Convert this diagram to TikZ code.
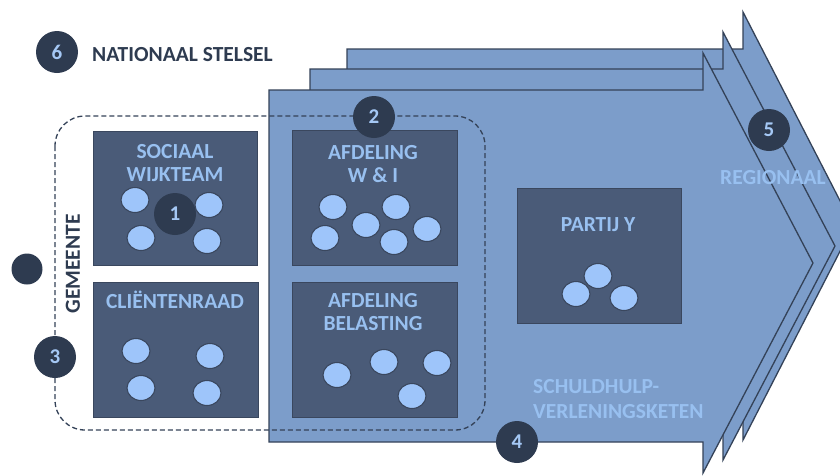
\documentclass[tikz,border=0pt]{standalone}
\usepackage{fontspec}
\setmainfont{Carlito}
\definecolor{arrowblue}{RGB}{124,157,202}
\definecolor{arrowline}{RGB}{52,66,88}
\definecolor{boxfill}{RGB}{74,91,120}
\definecolor{boxline}{RGB}{58,71,94}
\definecolor{ellfill}{RGB}{158,197,250}
\definecolor{badgefill}{RGB}{46,59,80}
\definecolor{badgetext}{RGB}{165,200,245}
\definecolor{lbltext}{RGB}{152,192,240}
\definecolor{darktext}{RGB}{46,59,80}
\tikzset{
  chevron/.style={fill=arrowblue, draw=arrowline, line width=1.3pt, line join=miter},
  unitbox/.style={rectangle, fill=boxfill, draw=boxline, line width=1pt, inner sep=0pt},
  member/.style={ellipse, fill=ellfill, draw=boxline, line width=1.1pt, minimum width=28pt, minimum height=25pt, inner sep=0pt},
  badge/.style={circle, fill=badgefill, minimum size=42pt, inner sep=0pt, text=badgetext, font=\fontsize{21}{22}\selectfont\bfseries},
  boxlabel/.style={text=lbltext, align=center, inner sep=0pt, font=\fontsize{21.5}{23.5}\selectfont\bfseries},
  darklabel/.style={text=darktext, inner sep=0pt, font=\fontsize{21.5}{23}\selectfont\bfseries},
  bluelabel/.style={text=lbltext, inner sep=0pt, font=\fontsize{21.5}{25}\selectfont\bfseries}
}
\usetikzlibrary{shapes.geometric}
\begin{document}
\begin{tikzpicture}[x=1pt,y=-1pt]
\useasboundingbox (0,0) rectangle (840,475);
\begin{scope}
\clip (0,0) rectangle (840,475);
% chevrons (back to front)
\draw[chevron] (347,49) -- (743,49) -- (743,12) -- (853,226) -- (743,440) -- (743,403) -- (347,403) -- cycle;
\draw[chevron] (310,69) -- (723,69) -- (723,32) -- (835,246) -- (723,460) -- (723,423) -- (310,423) -- cycle;
\draw[chevron] (269,90) -- (703,90) -- (703,53) -- (813,263) -- (703,473) -- (703,442) -- (269,442) -- cycle;
\end{scope}
% dashed municipality frame
\draw[arrowline, line width=1.3pt, dash pattern=on 5pt off 3pt, rounded corners=30pt] (55,116) rectangle (485,430);
% unit boxes
\node[unitbox, minimum width=164pt, minimum height=134pt] (wijk) at (175,198.5) {};
\node[unitbox, minimum width=165pt, minimum height=135pt] (raad) at (175.5,349.5) {};
\node[unitbox, minimum width=165pt, minimum height=135pt] (wi) at (374.5,197.5) {};
\node[unitbox, minimum width=165pt, minimum height=135pt] (bel) at (374.5,349.5) {};
\node[unitbox, minimum width=164pt, minimum height=135pt] (partij) at (599,255.5) {};
% labels in boxes
\node[boxlabel] (wijkl) at (175,163) {SOCIAAL\\WIJKTEAM};
\node[boxlabel] (raadl) at (175,300) {CLIËNTENRAAD};
\node[boxlabel] (wil) at (373,164) {AFDELING\\W \& I};
\node[boxlabel] (bell) at (373,312) {AFDELING\\BELASTING};
\node[boxlabel] (partijl) at (598,225) {PARTIJ Y};
% members
\node[member] (w1) at (135,200) {};
\node[member] (w2) at (209,205) {};
\node[member] (w3) at (141,238) {};
\node[member] (w4) at (207,241) {};
\node[member] (r1) at (136,351) {};
\node[member] (r2) at (210,356) {};
\node[member] (r3) at (141,388) {};
\node[member] (r4) at (207,393) {};
\node[member] (i1) at (333,207) {};
\node[member] (i2) at (396,207) {};
\node[member] (i3) at (366,225) {};
\node[member] (i4) at (325,238) {};
\node[member] (i5) at (394,242) {};
\node[member] (i6) at (427,229) {};
\node[member] (b1) at (337,375) {};
\node[member] (b2) at (384,362) {};
\node[member] (b3) at (437,363) {};
\node[member] (b4) at (412,396) {};
\node[member] (p1) at (576,294) {};
\node[member] (p2) at (598,276) {};
\node[member] (p3) at (624,298) {};
% badges
\node[badge] (n1) at (175,214) {1};
\node[badge] (n2) at (374,117) {2};
\node[badge] (n3) at (55,357) {3};
\node[badge] (n4) at (517,442) {4};
\node[badge] (n5) at (769,130) {5};
\node[badge] (n6) at (57,52) {6};
\node[circle, fill=badgefill, minimum size=31pt, inner sep=0pt] (dot) at (27,269) {};
% other labels
\node[darklabel, anchor=west] (nat) at (92,55) {NATIONAAL STELSEL};
\node[darklabel, rotate=90] (gem) at (73,264) {GEMEENTE};
\node[bluelabel] (reg) at (773,178) {REGIONAAL};
\node[bluelabel, anchor=west, align=left] (keten) at (533,399.5) {SCHULDHULP-\\VERLENINGSKETEN};
\end{tikzpicture}
\end{document}
